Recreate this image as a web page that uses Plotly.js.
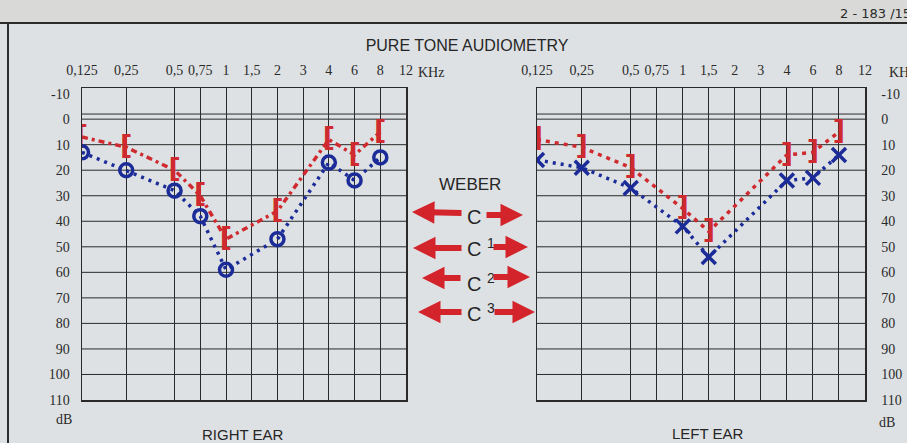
<!DOCTYPE html>
<html>
<head>
<meta charset="utf-8">
<script src="https://cdn.plot.ly/plotly-3.0.1.min.js"></script>
<style>html,body{margin:0;padding:0;background:#dde1e3;}#chart{width:907px;height:443px;}</style>
</head>
<body>
<div id="chart"></div>
<script>
// ---- data ----
const freqLabels = ['0,125','0,25','0,5','0,75','1','1,5','2','3','4','6','8','12'];
const dbTicks = [-10,0,10,20,30,40,50,60,70,80,90,100,110];

const rightAirFreq  = ['0,125','0,25','0,5','0,75','1','2','4','6','8'];
const rightAirDb    = [13, 20, 28, 38, 59, 47, 17, 24, 15];
const rightBoneFreq = ['0,125','0,25','0,5','0,75','1','2','4','6','8'];
const rightBoneDb   = [7, 11, 20, 30, 47, 36, 8, 14, 5];

const leftAirFreq   = ['0,125','0,25','0,5','1','1,5','4','6','8'];
const leftAirDb     = [16, 19, 27, 42, 54, 24, 23, 14];
const leftBoneFreq  = ['0,125','0,25','0,5','1','1,5','4','6','8'];
const leftBoneDb    = [8, 11, 19, 35, 44, 14, 13, 5];

const weberLabels = ['C', 'C <sup>1</sup>', 'C <sup>2</sup>', 'C <sup>3</sup>'];

// ---- chart form: the printed frequency grid is not evenly spaced ----
const gridSpacing = [0, 1.72, 3.6, 4.6, 5.6, 6.6, 7.6, 8.6, 9.6, 10.6, 11.6, 12.6];
const fx = f => gridSpacing[freqLabels.indexOf(f)];

const W = 907, H = 443;
const px = x => x / W, py = y => 1 - y / H;

const RED = '#cf2a30', BLUE = '#1b2b98', INK = '#2a2a2a';

const traces = [
  {x: rightBoneFreq.map(fx), y: rightBoneDb, xaxis:'x', yaxis:'y', mode:'lines+text',
   text: rightBoneFreq.map(()=>'['), textposition:'middle center',
   textfont:{family:'DejaVu Sans', size:27, color:RED, weight:'bold'},
   line:{color:RED, width:3.5, dash:'6px,4px,3px,4px'}, hoverinfo:'skip'},
  {x: rightAirFreq.map(fx), y: rightAirDb, xaxis:'x', yaxis:'y', mode:'lines+markers',
   marker:{symbol:'circle-open', size:13, color:BLUE, line:{width:3.5, color:BLUE}},
   line:{color:BLUE, width:3.5, dash:'3px,5px'}, hoverinfo:'skip'},
  {x: leftBoneFreq.map(fx), y: leftBoneDb, xaxis:'x2', yaxis:'y2', mode:'lines+text',
   text: leftBoneFreq.map(()=>']'), textposition:'middle center',
   textfont:{family:'DejaVu Sans', size:27, color:RED, weight:'bold'},
   line:{color:RED, width:3.5, dash:'4px,5px'}, hoverinfo:'skip'},
  {x: leftAirFreq.map(fx), y: leftAirDb, xaxis:'x2', yaxis:'y2', mode:'lines+markers',
   marker:{symbol:'x-thin-open', size:14, color:BLUE, line:{width:3.5, color:BLUE}},
   line:{color:BLUE, width:3.5, dash:'3px,5px'}, hoverinfo:'skip'}
];

function xAxis(domain){
  return {domain: domain, range:[0, gridSpacing[gridSpacing.length-1]], side:'top',
    tickvals: gridSpacing, ticktext: freqLabels, ticks:'', showgrid:true,
    gridcolor:INK, gridwidth:1, zeroline:false, showline:true, mirror:true,
    linecolor:INK, linewidth:1.5, ticklabelstandoff:6,
    tickfont:{family:'Liberation Serif', size:14, color:'#2a2a2a'}, fixedrange:true};
}
function yAxis(anchor, side, standoff){
  return {domain:[py(400), py(88)], range:[110, -12.2], anchor:anchor, side:side,
    tickvals: dbTicks, ticktext: dbTicks.map(v => String(v)), ticks:'', showgrid:false,
    zeroline:false, showline:true,
    mirror:true, linecolor:INK, linewidth:1.5, ticklabelstandoff:standoff,
    tickfont:{family:'Liberation Serif', size:14, color:'#2a2a2a'}, fixedrange:true};
}

const shapes = [
  {type:'rect', xref:'paper', yref:'paper', x0:0, x1:1, y0:py(23), y1:1,
   fillcolor:'#d9dad8', line:{width:0}, layer:'below'},
  {type:'line', xref:'paper', yref:'paper', x0:0, x1:1, y0:py(23), y1:py(23),
   line:{color:'#2b2b2b', width:2}},
  {type:'line', xref:'paper', yref:'paper', x0:px(8), x1:px(8), y0:py(23), y1:0,
   line:{color:'#2b2b2b', width:2}}
];
const hLines = [-2,0,10,20,30,40,50,60,70,80,90,100];
['y','y2'].forEach((ya,i)=>{
  hLines.forEach(v=>shapes.push({type:'line', xref:(i?'x2':'x')+' domain', yref:ya,
    x0:0, x1:1, y0:v, y1:v, line:{color:INK, width:1}, layer:'below'}));
});

const sans = {family:'Liberation Sans', color:'#262626'};
const annotations = [
  {text:'KHz', x:px(416), y:py(72), xref:'paper', yref:'paper', xanchor:'left', yanchor:'middle', showarrow:false,
   font:{family:'Liberation Serif', size:14, color:'#2a2a2a'}},
  {text:'KHz', x:px(887), y:py(72), xref:'paper', yref:'paper', xanchor:'left', yanchor:'middle', showarrow:false,
   font:{family:'Liberation Serif', size:14, color:'#2a2a2a'}},
  {text:'dB', x:px(74), y:py(419), xref:'paper', yref:'paper', xanchor:'right', yanchor:'middle', showarrow:false,
   font:{family:'Liberation Serif', size:14, color:'#2a2a2a'}},
  {text:'dB', x:px(877), y:py(422), xref:'paper', yref:'paper', xanchor:'left', yanchor:'middle', showarrow:false,
   font:{family:'Liberation Serif', size:14, color:'#2a2a2a'}},
  {text:'RIGHT EAR', x:px(243), y:py(434), xref:'paper', yref:'paper', xanchor:'center', yanchor:'middle', showarrow:false,
   font:Object.assign({size:15}, sans)},
  {text:'LEFT EAR', x:px(708), y:py(433), xref:'paper', yref:'paper', xanchor:'center', yanchor:'middle', showarrow:false,
   font:Object.assign({size:15}, sans)},
  {text:'WEBER', x:px(470), y:py(184), xref:'paper', yref:'paper', xanchor:'center', yanchor:'middle', showarrow:false,
   font:Object.assign({size:17}, sans)},
  {text:'2 - 183 /15', x:px(838), y:py(13), xref:'paper', yref:'paper', xanchor:'left', yanchor:'middle', showarrow:false,
   font:{family:'DejaVu Sans', size:13, color:'#2a2a2a'}}
];
const weberRows = [
  {cy:217, l:[412,212,463,213], r:[523,215,485,215]},
  {cy:247, l:[413,248,463,248], r:[528,247,492,247]},
  {cy:282, l:[422,278,462,278], r:[530,277,492,277]},
  {cy:312, l:[418,312,463,312], r:[535,312,493,312]}
];
weberLabels.forEach((t,i)=>{
  const row = weberRows[i];
  annotations.push({text:t, x:px(465), y:py(row.cy), xref:'paper', yref:'paper', xanchor:'left', yanchor:'middle',
    showarrow:false, font:Object.assign({size:20}, sans)});
  [row.l, row.r].forEach(a=>annotations.push({text:'', x:px(a[0]), y:py(a[1]), xref:'paper', yref:'paper',
    ax:a[2]-a[0], ay:a[3]-a[1], showarrow:true, arrowhead:2, arrowsize:0.75, arrowwidth:6, arrowcolor:'#d3242c'}));
});

const layout = {
  width:W, height:H, margin:{l:0, r:0, t:0, b:0},
  paper_bgcolor:'#dde1e3', plot_bgcolor:'rgba(0,0,0,0)',
  showlegend:false,
  title:{text:'PURE TONE AUDIOMETRY', x:px(467), y:py(45), xanchor:'center', yanchor:'middle',
         font:{family:'Liberation Sans', size:16, color:'#262626'}},
  xaxis: xAxis([px(82), px(406)]),
  yaxis: yAxis('x', 'left', 8),
  xaxis2: xAxis([px(537), px(865)]),
  yaxis2: yAxis('x2', 'right', 12),
  shapes: shapes, annotations: annotations
};
layout.xaxis2.anchor = 'y2';
layout.xaxis.anchor = 'y';

Plotly.newPlot('chart', traces, layout, {displayModeBar:false, staticPlot:true});
</script>
</body>
</html>
